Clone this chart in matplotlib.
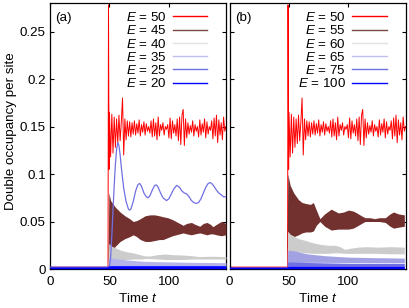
import matplotlib
matplotlib.use("Agg")
import matplotlib.pyplot as plt
from matplotlib.lines import Line2D

plt.rcParams.update({
    "font.family": ["Liberation Sans", "DejaVu Sans"],
    "font.size": 9.6,
    "mathtext.fontset": "custom",
    "mathtext.rm": "Liberation Sans",
    "mathtext.it": "Liberation Sans:italic",
    "xtick.direction": "in",
    "ytick.direction": "in",
    "xtick.top": True,
    "ytick.right": True,
    "xtick.major.size": 3,
    "ytick.major.size": 3,
    "axes.linewidth": 0.9,
})

# ---- E = 50 (resonant, same in both panels): fast oscillating line ----
red_t = [0, 48.8, 49.2, 49.7] + list(range(50, 149))
red_v = [0.002, 0.002, 0.278, 0.105,
         0.165, 0.118, 0.163, 0.122, 0.160, 0.128, 0.158, 0.132, 0.162, 0.135,
         0.155, 0.180, 0.120, 0.158, 0.136, 0.156, 0.140, 0.155, 0.139, 0.154,
         0.142, 0.156, 0.141, 0.153, 0.143, 0.157, 0.140, 0.152, 0.144, 0.155,
         0.141, 0.153, 0.145, 0.150, 0.143, 0.156, 0.139, 0.158, 0.140, 0.154,
         0.136, 0.160, 0.140, 0.152, 0.146, 0.154, 0.141, 0.150, 0.147, 0.152,
         0.138, 0.159, 0.137, 0.156, 0.143, 0.152, 0.140, 0.158, 0.135, 0.160,
         0.131, 0.162, 0.168, 0.130, 0.158, 0.138, 0.154, 0.142, 0.151, 0.144,
         0.156, 0.140, 0.152, 0.145, 0.150, 0.139, 0.157, 0.141, 0.153, 0.144,
         0.158, 0.138, 0.155, 0.142, 0.150, 0.146, 0.156, 0.137, 0.159, 0.140,
         0.162, 0.133, 0.157, 0.141, 0.154, 0.136, 0.160, 0.145, 0.150]

# ---- panel (a) ----
# E = 45: dense oscillation, drawn as its envelope
a45_t = [48.8, 49.5, 51, 55, 59, 63, 67, 70, 73, 76, 80, 84, 88, 92, 95, 99,
         103, 106, 109, 112, 115, 119, 122, 126, 129, 132, 135, 137, 140, 144, 148]
a45_hi = [0.002, 0.080, 0.072, 0.065, 0.060, 0.056, 0.053, 0.050, 0.051, 0.053,
          0.056, 0.057, 0.057, 0.056, 0.055, 0.054, 0.052, 0.050, 0.048, 0.046,
          0.048, 0.049, 0.047, 0.045, 0.048, 0.049, 0.047, 0.0445, 0.047, 0.050, 0.048]
a45_lo = [0.002, 0.020, 0.018, 0.024, 0.029, 0.032, 0.034, 0.036, 0.034, 0.031,
          0.029, 0.029, 0.030, 0.031, 0.031, 0.033, 0.035, 0.036, 0.037, 0.038,
          0.037, 0.036, 0.037, 0.038, 0.037, 0.036, 0.037, 0.037, 0.036, 0.035, 0.036]

# E = 40
a40_t = [48.8, 49.5, 52, 59, 65, 70, 76, 80, 84, 90, 97, 104, 112, 119, 126, 135, 148]
a40_hi = [0.002, 0.027, 0.024, 0.020, 0.018, 0.017, 0.015, 0.0138, 0.0137, 0.015,
          0.0158, 0.015, 0.0147, 0.014, 0.013, 0.0135, 0.013]
a40_lo = [0.002, 0.009, 0.0095, 0.010, 0.010, 0.0105, 0.0105, 0.011, 0.011, 0.0105,
          0.010, 0.010, 0.010, 0.0105, 0.0105, 0.0105, 0.0105]

# E = 35
a35_t = [48.8, 49.5, 55, 65, 80, 100, 120, 148]
a35_hi = [0.002, 0.012, 0.011, 0.0095, 0.008, 0.0075, 0.007, 0.0067]
a35_lo = [0.001, 0.002, 0.002, 0.002, 0.002, 0.002, 0.002, 0.002]

# E = 25: slow Rabi-like oscillation (line)
a25_t = [0, 48, 50, 51, 52, 53, 54, 55, 56, 57, 58, 59, 60, 62, 64, 66, 67, 68,
         70, 72, 74, 75.5, 77, 79, 81, 82.5, 84, 86, 88, 89.5, 91, 93, 95, 98,
         100, 102, 104, 106.5, 109, 111, 113, 115, 117, 119, 121, 123, 125, 127,
         129, 131, 133, 134.5, 136, 138, 140, 142, 144, 146, 148]
a25_v = [0.002, 0.002, 0.003, 0.012, 0.035, 0.062, 0.088, 0.110, 0.126, 0.133,
         0.130, 0.120, 0.107, 0.085, 0.071, 0.063, 0.062, 0.063, 0.071, 0.082,
         0.089, 0.090, 0.087, 0.080, 0.076, 0.075, 0.077, 0.083, 0.088, 0.0885,
         0.086, 0.080, 0.075, 0.072, 0.074, 0.079, 0.084, 0.088, 0.086, 0.082,
         0.080, 0.079, 0.076, 0.072, 0.070, 0.069, 0.070, 0.074, 0.080, 0.086,
         0.090, 0.091, 0.090, 0.087, 0.083, 0.080, 0.078, 0.076, 0.076]

# E = 20 (near zero)
a20_t = [0, 48, 50, 148]
a20_hi = [0.0022, 0.0022, 0.0035, 0.0035]
a20_lo = [0.0003, 0.0003, 0.0003, 0.0003]

# ---- panel (b) ----
b55_t = [48.3, 49.0, 51, 54, 58, 61, 64, 68, 70.5, 73, 76, 80, 85.5, 91.5, 96,
         100, 104, 107, 111, 114, 118, 122, 126, 131, 135, 138, 142, 147]
b55_hi = [0.002, 0.100, 0.088, 0.080, 0.073, 0.070, 0.069, 0.068, 0.070, 0.062,
          0.053, 0.058, 0.063, 0.059, 0.060, 0.062, 0.061, 0.059, 0.056, 0.054,
          0.054, 0.053, 0.054, 0.054, 0.058, 0.060, 0.058, 0.057]
b55_lo = [0.002, 0.040, 0.036, 0.034, 0.036, 0.038, 0.039, 0.039, 0.040, 0.046,
          0.050, 0.045, 0.041, 0.042, 0.042, 0.042, 0.043, 0.045, 0.048, 0.050,
          0.050, 0.050, 0.050, 0.049, 0.045, 0.043, 0.044, 0.045]

b60_t = [48.3, 49.0, 52, 58, 64, 69, 76, 83, 88, 92, 97, 102, 108, 115, 125, 135, 147]
b60_hi = [0.002, 0.038, 0.036, 0.032, 0.030, 0.028, 0.026, 0.025, 0.025, 0.024,
          0.0207, 0.022, 0.023, 0.0235, 0.023, 0.0235, 0.023]
b60_lo = [0.002, 0.020, 0.019, 0.018, 0.017, 0.0165, 0.0165, 0.0165, 0.017, 0.017,
          0.0165, 0.0165, 0.0165, 0.0165, 0.0165, 0.016, 0.016]

b65_t = [48.3, 49.0, 55, 65, 80, 100, 120, 147]
b65_hi = [0.002, 0.020, 0.019, 0.016, 0.014, 0.0125, 0.012, 0.0115]
b65_lo = [0.001, 0.006, 0.0065, 0.007, 0.007, 0.0068, 0.0068, 0.0068]

b75_t = [48.3, 49.0, 60, 80, 100, 147]
b75_hi = [0.002, 0.0075, 0.007, 0.0065, 0.006, 0.006]
b75_lo = [0.001, 0.002, 0.002, 0.002, 0.002, 0.002]

b100_t = [0, 48, 50, 147]
b100_hi = [0.0022, 0.0022, 0.0028, 0.0028]
b100_lo = [0.0003, 0.0003, 0.0003, 0.0003]

labels_a = ["50", "45", "40", "35", "25", "20"]
labels_b = ["50", "55", "60", "65", "75", "100"]

RED = "#ff0000"
BROWN = "#72302f"
GRAY = "#cccccc"
LAV_A = "#b4b4ea"
LAV_B = "#a2a2e2"
MBLUE = "#7070e4"
BLUE = "#0000ff"
leg_colors = [RED, "#7a4848", "#e2e2e2", "#c0c0f0", "#7070e0", BLUE]

fig = plt.figure(figsize=(4.09, 3.08), dpi=100)
ax_a = fig.add_axes([0.1222, 0.1266, 0.4303, 0.8636])
ax_b = fig.add_axes([0.5612, 0.1266, 0.4303, 0.8636])

# panel (a)
ax_a.plot(red_t, red_v, color=RED, lw=0.7, zorder=2)
ax_a.fill_between(a45_t, a45_lo, a45_hi, color=BROWN, lw=0, zorder=3)
ax_a.fill_between(a40_t, a40_lo, a40_hi, color=GRAY, lw=0, zorder=4)
ax_a.fill_between(a35_t, a35_lo, a35_hi, color=LAV_A, lw=0, zorder=5)
ax_a.plot(a25_t, a25_v, color=MBLUE, lw=0.9, zorder=6)
ax_a.fill_between(a20_t, a20_lo, a20_hi, color=BLUE, lw=0, zorder=7)

# panel (b)
ax_b.plot(red_t, red_v, color=RED, lw=0.7, zorder=2)
ax_b.fill_between(b55_t, b55_lo, b55_hi, color=BROWN, lw=0, zorder=3)
ax_b.fill_between(b60_t, b60_lo, b60_hi, color=GRAY, lw=0, zorder=4)
ax_b.fill_between(b65_t, b65_lo, b65_hi, color=LAV_B, lw=0, zorder=5)
ax_b.fill_between(b75_t, b75_lo, b75_hi, color=MBLUE, lw=0, zorder=6)
ax_b.fill_between(b100_t, b100_lo, b100_hi, color=BLUE, lw=0, zorder=7)

for ax, labs, tag in [(ax_a, labels_a, "(a)"), (ax_b, labels_b, "(b)")]:
    ax.set_xlim(0, 148)
    ax.set_ylim(0, 0.28)
    ax.set_xticks([0, 50, 100])
    ax.set_yticks([0, 0.05, 0.1, 0.15, 0.2, 0.25])
    ax.tick_params(axis="x", pad=5)
    ax.tick_params(axis="y", pad=3)
    ax.set_xlabel("Time $t$", labelpad=3)
    ax.text(0.03, 0.965, tag, transform=ax.transAxes, ha="left", va="top")
    handles = [Line2D([], [], color=c, lw=1.0) for c in leg_colors]
    ax.legend(handles, [f"$E$ = {s}" for s in labs], loc="upper right",
              bbox_to_anchor=(0.925, 0.99), frameon=False, markerfirst=False,
              handlelength=2.6, handletextpad=0.5, labelspacing=0.02,
              borderaxespad=0.2, borderpad=0.2)

ax_a.set_yticklabels(["0", "0.05", "0.1", "0.15", "0.2", "0.25"])
ax_a.set_ylabel("Double occupancy per site", labelpad=1)
ax_a.yaxis.set_label_coords(-0.19, 0.52)
ax_b.tick_params(labelleft=False)

fig.savefig("out.png", dpi=100)
